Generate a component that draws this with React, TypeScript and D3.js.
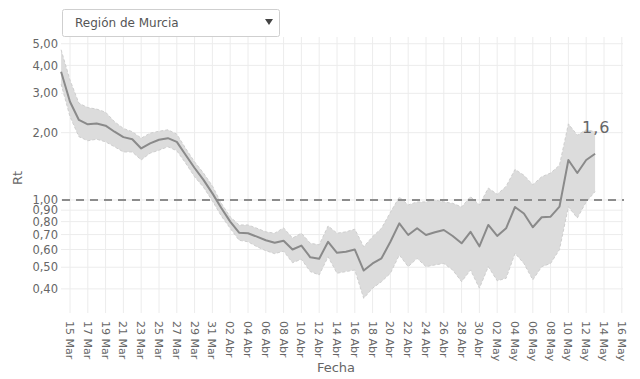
import React from "react";
import * as d3 from "d3";

const dates: string[] = [
  "2020-03-14","2020-03-15","2020-03-16","2020-03-17","2020-03-18","2020-03-19","2020-03-20","2020-03-21","2020-03-22","2020-03-23",
  "2020-03-24","2020-03-25","2020-03-26","2020-03-27","2020-03-28","2020-03-29","2020-03-30","2020-03-31","2020-04-01","2020-04-02",
  "2020-04-03","2020-04-04","2020-04-05","2020-04-06","2020-04-07","2020-04-08","2020-04-09","2020-04-10","2020-04-11","2020-04-12",
  "2020-04-13","2020-04-14","2020-04-15","2020-04-16","2020-04-17","2020-04-18","2020-04-19","2020-04-20","2020-04-21","2020-04-22",
  "2020-04-23","2020-04-24","2020-04-25","2020-04-26","2020-04-27","2020-04-28","2020-04-29","2020-04-30","2020-05-01","2020-05-02",
  "2020-05-03","2020-05-04","2020-05-05","2020-05-06","2020-05-07","2020-05-08","2020-05-09","2020-05-10","2020-05-11","2020-05-12",
  "2020-05-13",
];

const rt: number[] = [
  3.75, 2.75, 2.28, 2.18, 2.2, 2.15, 2.02, 1.91, 1.87, 1.7,
  1.79, 1.86, 1.89, 1.82, 1.59, 1.39, 1.23, 1.07, 0.92, 0.8,
  0.714, 0.71, 0.685, 0.66, 0.644, 0.657, 0.6, 0.625, 0.554, 0.546,
  0.65, 0.58, 0.587, 0.6, 0.483, 0.52, 0.548, 0.65, 0.786, 0.697,
  0.747, 0.697, 0.717, 0.734, 0.69, 0.64, 0.72, 0.62, 0.773, 0.69,
  0.747, 0.93, 0.87, 0.755, 0.837, 0.842, 0.933, 1.51, 1.32, 1.51,
  1.61,
];

const rtUpper: number[] = [
  4.7, 3.44, 2.71, 2.59, 2.55, 2.47, 2.24, 2.09, 2.02, 1.89,
  1.99, 2.03, 2.06, 1.97, 1.7, 1.48, 1.32, 1.155, 0.966, 0.84,
  0.773, 0.773, 0.747, 0.72, 0.71, 0.75, 0.675, 0.71, 0.64, 0.63,
  0.765, 0.71, 0.72, 0.74, 0.618, 0.685, 0.747, 0.88, 1.03, 0.95,
  0.98, 0.98, 1.0, 0.98, 0.966, 0.93, 1.035, 0.95, 1.13, 1.06,
  1.15, 1.37, 1.29, 1.17, 1.27, 1.32, 1.43, 2.19, 1.95, 2.06,
  2.02,
];

const rtLower: number[] = [
  3.3, 2.36, 1.92, 1.84, 1.87, 1.82, 1.73, 1.64, 1.64, 1.51,
  1.62, 1.67, 1.73, 1.66, 1.46, 1.27, 1.14, 0.99, 0.848, 0.747,
  0.66, 0.65, 0.618, 0.593, 0.575, 0.59, 0.524, 0.543, 0.478, 0.462,
  0.557, 0.47, 0.478, 0.486, 0.363, 0.403, 0.431, 0.47, 0.567, 0.503,
  0.548, 0.503, 0.512, 0.52, 0.486, 0.431, 0.486, 0.403, 0.503, 0.435,
  0.446, 0.577, 0.52, 0.439, 0.503, 0.52, 0.6, 0.933, 0.83, 0.98,
  1.09,
];

const yTicks: number[] = [0.4, 0.5, 0.6, 0.7, 0.8, 0.9, 1.0, 2.0, 3.0, 4.0, 5.0];

const xTickDates: string[] = [
  "2020-03-15","2020-03-17","2020-03-19","2020-03-21","2020-03-23","2020-03-25","2020-03-27","2020-03-29","2020-03-31",
  "2020-04-02","2020-04-04","2020-04-06","2020-04-08","2020-04-10","2020-04-12","2020-04-14","2020-04-16","2020-04-18",
  "2020-04-20","2020-04-22","2020-04-24","2020-04-26","2020-04-28","2020-04-30","2020-05-02","2020-05-04","2020-05-06",
  "2020-05-08","2020-05-10","2020-05-12","2020-05-14","2020-05-16",
];

const monthNames = ["Ene", "Feb", "Mar", "Abr", "May", "Jun"];

const region = "Región de Murcia";
const lastLabel = "1,6";

const W = 640;
const H = 379;
const plotLeft = 61;
const plotRight = 624;
const plotTop = 37;
const plotBottom = 313;

const parse = d3.utcParse("%Y-%m-%d");

export default function App() {
  const x = d3
    .scaleUtc()
    .domain([parse("2020-03-15")!, parse("2020-05-16")!])
    .range([70, 621.8]);
  const y = d3.scaleLog().domain([0.312, 5.36]).range([plotBottom, plotTop]);

  const pts = dates.map((d, i) => ({ t: parse(d)!, v: rt[i], lo: rtLower[i], hi: rtUpper[i] }));

  const area = d3
    .area<(typeof pts)[number]>()
    .x((d) => x(d.t))
    .y0((d) => y(d.lo))
    .y1((d) => y(d.hi));
  const line = d3
    .line<(typeof pts)[number]>()
    .x((d) => x(d.t))
    .y((d) => y(d.v));
  const upperLine = d3
    .line<(typeof pts)[number]>()
    .x((d) => x(d.t))
    .y((d) => y(d.hi));
  const lowerLine = d3
    .line<(typeof pts)[number]>()
    .x((d) => x(d.t))
    .y((d) => y(d.lo));

  const fmtY = (v: number) => v.toFixed(2).replace(".", ",");
  const fmtX = (s: string) => {
    const t = parse(s)!;
    const dd = String(t.getUTCDate()).padStart(2, "0");
    return `${dd} ${monthNames[t.getUTCMonth()]}`;
  };

  const font = "'DejaVu Sans', Verdana, sans-serif";
  const last = pts[pts.length - 1];

  return (
    <svg width={W} height={H} style={{ position: "absolute", left: 0, top: 0, background: "#fff" }} fontFamily={font}>
      {/* grid */}
      <g>
        {yTicks.map((t) => (
          <line key={"gy" + t} x1={plotLeft} x2={plotRight - 1} y1={y(t)} y2={y(t)} stroke="#ececec" strokeWidth={1} />
        ))}
        {xTickDates.map((s) => (
          <line key={"gx" + s} x1={x(parse(s)!)} x2={x(parse(s)!)} y1={plotTop} y2={plotBottom} stroke="#ececec" strokeWidth={1} />
        ))}
      </g>
      {/* band */}
      <path d={area(pts)!} fill="#dcdcdc" />
      <path d={upperLine(pts)!} fill="none" stroke="#cfcfcf" strokeWidth={1} strokeDasharray="3,2" />
      <path d={lowerLine(pts)!} fill="none" stroke="#cfcfcf" strokeWidth={1} strokeDasharray="3,2" />
      {/* reference line */}
      <line x1={plotLeft + 1} x2={plotRight} y1={y(1)} y2={y(1)} stroke="#8c8c8c" strokeWidth={2} strokeDasharray="8,6" />
      {/* main line */}
      <path d={line(pts)!} fill="none" stroke="#8a8a8a" strokeWidth={2} strokeLinejoin="round" />
      {/* annotation */}
      <text x={x(last.t) - 13} y={133} fontSize={16} fill="#666" letterSpacing={1}>
        {lastLabel}
      </text>
      {/* y ticks */}
      {yTicks.map((t) => (
        <text key={"ty" + t} x={58} y={y(t)} dy="0.36em" textAnchor="end" fontSize={11.5} fill="#666">
          {fmtY(t)}
        </text>
      ))}
      {/* x ticks */}
      {xTickDates.map((s) => {
        const px = x(parse(s)!);
        return (
          <text
            key={"tx" + s}
            transform={`translate(${px},${321}) rotate(90)`}
            dy="0.36em"
            textAnchor="start"
            fontSize={11}
            fill="#666"
          >
            {fmtX(s)}
          </text>
        );
      })}
      {/* axis titles */}
      <text transform={`translate(22,178) rotate(-90)`} textAnchor="middle" fontSize={13} fill="#666">
        Rt
      </text>
      <text x={336} y={372} textAnchor="middle" fontSize={13} fill="#666">
        Fecha
      </text>
      {/* dropdown */}
      <rect x={62.5} y={9.5} width={217} height={27} rx={2} fill="#fff" stroke="#cfcfcf" />
      <text x={75} y={27} fontSize={12} fill="#555">
        {region}
      </text>
      <path d="M265,19 L273,19 L269,25 Z" fill="#444" />
    </svg>
  );
}
